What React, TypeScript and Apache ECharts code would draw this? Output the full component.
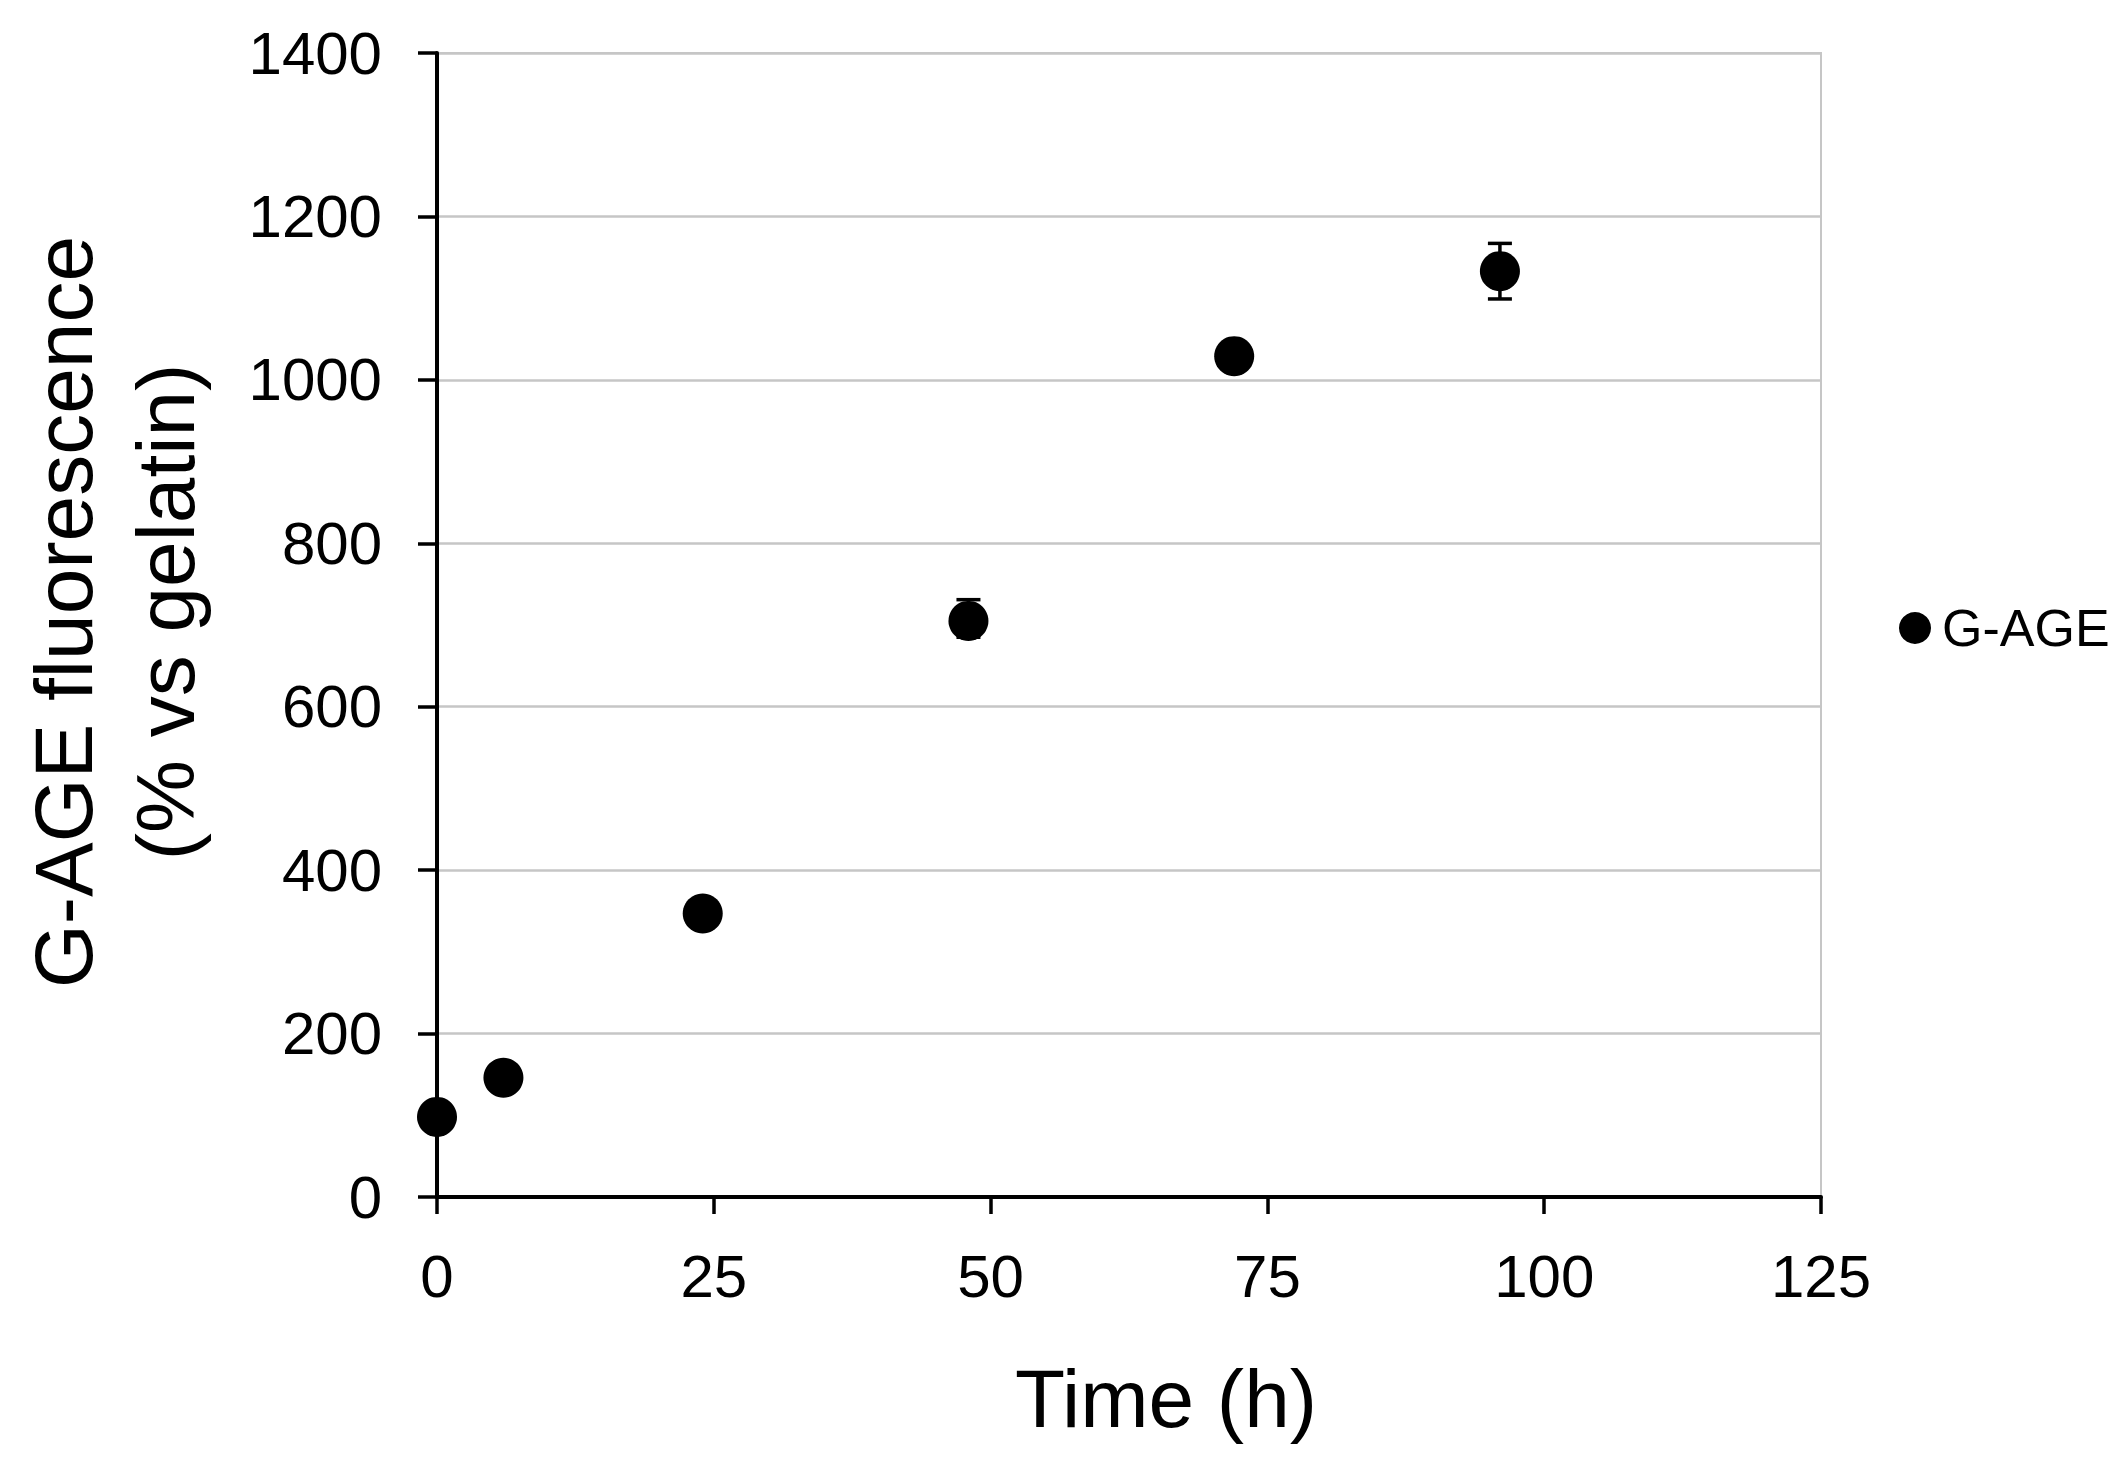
import React, { useEffect, useRef } from "react";
import * as echarts from "echarts";

// ---- data ----
const timeHours = [0, 6, 24, 48, 72, 96];
const gAgeValues = [98, 146, 347, 705, 1029, 1133];
const gAgeErrorsUp = [6, 8, 10, 26, 14, 34];
const gAgeErrorsDown = [6, 8, 10, 20, 14, 34];
const xTicks = [0, 25, 50, 75, 100, 125];
const yTicks = [0, 200, 400, 600, 800, 1000, 1200, 1400];
const seriesName = "G-AGE";
const xTitle = "Time (h)";
const yTitleLines = ["G-AGE fluorescence", "(% vs gelatin)"];

const FONT = "'Liberation Sans', Arial, Helvetica, sans-serif";

export default function App() {
  const ref = useRef<HTMLDivElement>(null);

  useEffect(() => {
    if (!ref.current) return;
    const chart = echarts.init(ref.current, undefined, { renderer: "svg" });

    const points = timeHours.map((t, i) => [t, gAgeValues[i]]);
    const errData = timeHours.map((t, i) => [
      t,
      gAgeValues[i] - gAgeErrorsDown[i],
      gAgeValues[i] + gAgeErrorsUp[i],
    ]);

    const option: any = {
      animation: false,
      backgroundColor: "#ffffff",
      textStyle: { fontFamily: FONT, color: "#000" },
      grid: {
        left: 437,
        top: 53,
        width: 1384,
        height: 1144,
        show: true,
        borderColor: "#c6c6c6",
        borderWidth: 2,
        backgroundColor: "transparent",
      },
      legend: {
        data: [seriesName],
        left: 1899,
        top: 598,
        padding: 0,
        itemWidth: 32,
        itemHeight: 32,
        icon: "circle",
        itemStyle: { color: "#000", opacity: 1 },
        textStyle: { fontFamily: FONT, fontSize: 52, color: "#000", lineHeight: 60, padding: [0, 0, 0, 6] },
      },
      xAxis: {
        type: "value",
        min: xTicks[0],
        max: xTicks[xTicks.length - 1],
        interval: xTicks[1] - xTicks[0],
        name: xTitle,
        nameLocation: "middle",
        nameGap: 160,
        nameTextStyle: { fontFamily: FONT, fontSize: 82, color: "#000", lineHeight: 82, padding: [0, 0, 0, 74] },
        axisLine: { show: true, onZero: false, lineStyle: { color: "#000", width: 4 } },
        axisTick: { show: true, inside: false, length: 17, lineStyle: { color: "#000", width: 3.5 } },
        axisLabel: { fontFamily: FONT, fontSize: 60, color: "#000", margin: 49, formatter: (v: number) => String(v) },
        splitLine: { show: false },
      },
      yAxis: {
        type: "value",
        min: yTicks[0],
        max: yTicks[yTicks.length - 1],
        interval: yTicks[1] - yTicks[0],
        name: yTitleLines.join("\n"),
        nameLocation: "middle",
        nameRotate: 90,
        nameGap: 221,
        nameTextStyle: { fontFamily: FONT, fontSize: 82, color: "#000", lineHeight: 102, padding: [0, 0, 0, 26] },
        axisLine: { show: true, onZero: false, lineStyle: { color: "#000", width: 4 } },
        axisTick: { show: true, inside: false, length: 19, lineStyle: { color: "#000", width: 3.5 } },
        axisLabel: { fontFamily: FONT, fontSize: 60, color: "#000", margin: 55, formatter: (v: number) => String(v) },
        splitLine: { show: true, lineStyle: { color: "#c6c6c6", width: 2.5 } },
      },
      series: [
        {
          name: "error",
          type: "custom",
          z: 2,
          data: errData,
          encode: { x: 0, y: [1, 2] },
          renderItem: (params: any, api: any) => {
            const x = api.value(0);
            const lo = api.coord([x, api.value(1)]);
            const hi = api.coord([x, api.value(2)]);
            const w = 12;
            const style = { stroke: "#000", lineWidth: 3.5 };
            return {
              type: "group",
              children: [
                { type: "line", shape: { x1: lo[0], y1: lo[1], x2: hi[0], y2: hi[1] }, style },
                { type: "line", shape: { x1: hi[0] - w, y1: hi[1], x2: hi[0] + w, y2: hi[1] }, style },
                { type: "line", shape: { x1: lo[0] - w, y1: lo[1], x2: lo[0] + w, y2: lo[1] }, style },
              ],
            };
          },
          silent: true,
        },
        {
          name: seriesName,
          type: "scatter",
          z: 3,
          symbol: "circle",
          symbolSize: 40,
          itemStyle: { color: "#000", opacity: 1 },
          data: points,
        },
      ],
    };

    chart.setOption(option);
    return () => chart.dispose();
  }, []);

  return (
    <div
      ref={ref}
      style={{ position: "fixed", left: 0, top: 0, width: 2128, height: 1457, background: "#fff" }}
    />
  );
}
